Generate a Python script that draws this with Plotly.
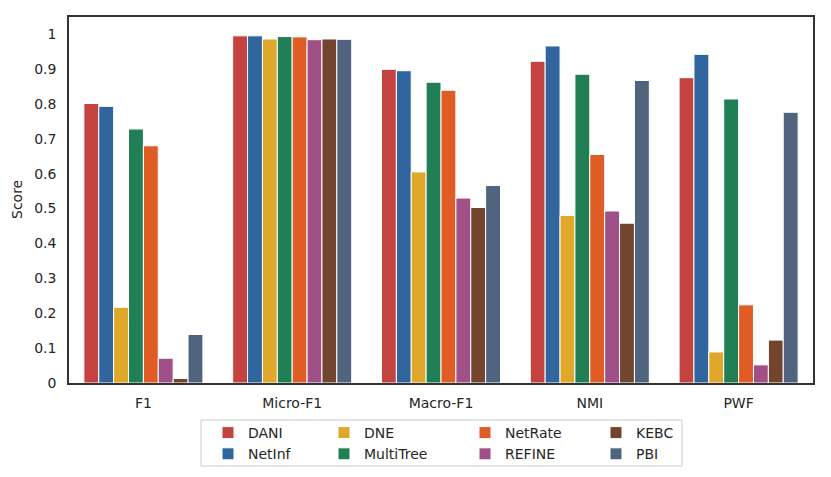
import plotly.graph_objects as go

categories = ["F1", "Micro-F1", "Macro-F1", "NMI", "PWF"]
methods = ["DANI", "NetInf", "DNE", "MultiTree", "NetRate", "REFINE", "KEBC", "PBI"]
colors = ["#c44240", "#30659e", "#e0a82a", "#217f55", "#df5d24", "#a05087", "#73452e", "#51647f"]

DANI = [0.801, 0.995, 0.899, 0.922, 0.875]
NetInf = [0.793, 0.995, 0.895, 0.966, 0.942]
DNE = [0.217, 0.986, 0.605, 0.480, 0.089]
MultiTree = [0.728, 0.993, 0.862, 0.885, 0.814]
NetRate = [0.680, 0.992, 0.839, 0.655, 0.224]
REFINE = [0.071, 0.984, 0.530, 0.493, 0.052]
KEBC = [0.013, 0.986, 0.503, 0.458, 0.123]
PBI = [0.139, 0.985, 0.566, 0.867, 0.776]
values = [DANI, NetInf, DNE, MultiTree, NetRate, REFINE, KEBC, PBI]

ytick_vals = [0, 0.1, 0.2, 0.3, 0.4, 0.5, 0.6, 0.7, 0.8, 0.9, 1.0]
ytick_text = ["0", "0.1", "0.2", "0.3", "0.4", "0.5", "0.6", "0.7", "0.8", "0.9", "1"]

W, H = 831, 477
font = "DejaVu Sans"
txt = "#262626"
fs = 14

# legend columns (pixel x of the legend column), two entries each
legend_names = ["legend", "legend2", "legend3", "legend4"]
legend_x_px = [208, 324, 465, 596]

fig = go.Figure()
for i, (m, c, v) in enumerate(zip(methods, colors, values)):
    fig.add_trace(go.Bar(
        x=categories, y=v, name=m,
        marker=dict(color=c, line=dict(color="white", width=1)),
        legend=legend_names[i // 2],
    ))

layout_legends = {}
for ln, xp in zip(legend_names, legend_x_px):
    layout_legends[ln] = dict(
        x=xp / W, y=1 - 417 / H, xref="container", yref="container",
        xanchor="left", yanchor="top",
        bgcolor="rgba(0,0,0,0)", borderwidth=0,
        font=dict(family=font, size=fs, color=txt),
        orientation="v", tracegroupgap=0, itemwidth=30,
    )

fig.update_layout(
    width=W, height=H,
    margin=dict(l=69, r=18, t=17, b=94, autoexpand=False),
    paper_bgcolor="white", plot_bgcolor="white",
    barmode="group", bargap=0.2, bargroupgap=0,
    font=dict(family=font, size=fs, color=txt),
    showlegend=True,
    **layout_legends,
)
fig.update_xaxes(
    showline=True, linecolor="#333333", linewidth=1.5, mirror=True,
    showgrid=False, ticks="", automargin=False, ticklabelstandoff=6,
    tickfont=dict(family=font, size=fs, color=txt),
)
fig.update_yaxes(
    range=[0, 1.049], tickvals=ytick_vals, ticktext=ytick_text,
    showline=True, linecolor="#333333", linewidth=1.5, mirror=True,
    showgrid=False, zeroline=False, ticks="", automargin=False,
    ticklabelstandoff=8,
    tickfont=dict(family=font, size=fs, color=txt),
)
fig.add_annotation(text="Score", xref="paper", yref="paper",
                   x=-(69 - 17) / 744, y=(383 - 200) / 366, textangle=-90,
                   showarrow=False, xanchor="center", yanchor="middle",
                   font=dict(family=font, size=fs, color=txt))
# legend frame
fig.add_shape(type="rect", xref="paper", yref="paper",
              x0=(201 - 69) / 744, x1=(682 - 69) / 744,
              y0=-(466 - 383) / 366, y1=-(420 - 383) / 366,
              line=dict(color="#cccccc", width=1), fillcolor="rgba(0,0,0,0)", layer="above")

fig.write_html("out.html", config={"displayModeBar": False},
               post_script="document.body.style.margin='0';")
